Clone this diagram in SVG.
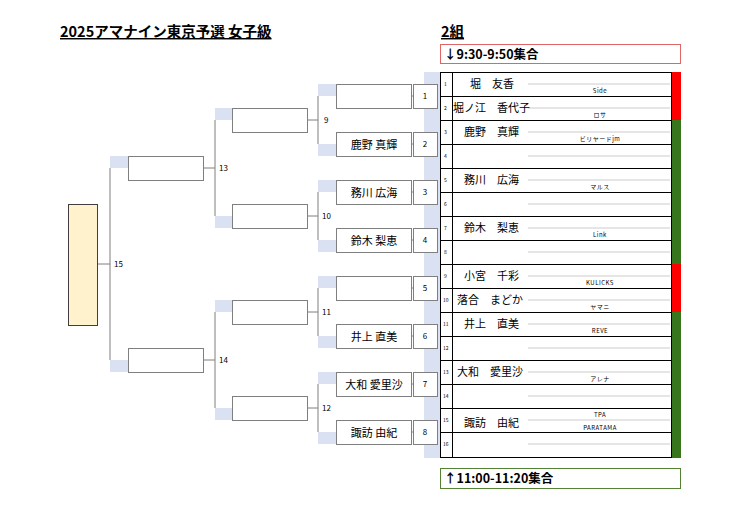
<svg xmlns="http://www.w3.org/2000/svg" width="740" height="523" viewBox="0 0 740 523">
<style>
text{font-family:"Noto Sans CJK JP","Liberation Sans",sans-serif;fill:#000}
.b{fill:#fff;stroke:#7f7f7f;stroke-width:1}
.bl{fill:#d9e1f2}
.ln{stroke:#7f7f7f;stroke-width:1;fill:none}
.nm{font-size:11px}
.rn{font-size:5px}
.cl{font-size:6px;font-family:"DejaVu Sans Mono",monospace;letter-spacing:0.5px}
.dl{stroke:#bfbfbf;stroke-width:0.8}
.rw{stroke:#000;stroke-width:1}
</style>
<rect width="740" height="523" fill="#fff"/>
<text x="60" y="37" font-size="14.5" font-weight="bold" text-decoration="underline">2025アマナイン東京予選 女子級</text>
<text x="441" y="37" font-size="14.5" font-weight="bold" text-decoration="underline">2組</text>
<g id="time1"><rect x="440.5" y="44.5" width="240" height="19" fill="#fff" stroke="#e06666"/><text x="444" y="59" font-size="12.5" font-weight="bold">↓9:30-9:50集合</text></g>
<g id="time2"><rect x="440.5" y="468.5" width="240" height="20" fill="#fff" stroke="#548235"/><text x="444" y="483" font-size="12.5" font-weight="bold">↑11:00-11:20集合</text></g>
<rect class="bl" x="424" y="72" width="16" height="386"/>
<g id="table">
<rect x="440.5" y="72.5" width="231" height="385" fill="#fff" stroke="#000"/>
<line class="rw" x1="452.5" y1="72" x2="452.5" y2="458"/>
<rect x="672" y="72" width="9" height="48" fill="#ff0000"/>
<rect x="672" y="120" width="9" height="144" fill="#38761d"/>
<rect x="672" y="264" width="9" height="48" fill="#ff0000"/>
<rect x="672" y="312" width="9" height="146" fill="#38761d"/>
<g class="rw">
<line x1="440" y1="96.5" x2="672" y2="96.5"/><line x1="440" y1="120.5" x2="672" y2="120.5"/><line x1="440" y1="144.5" x2="672" y2="144.5"/><line x1="440" y1="168.5" x2="672" y2="168.5"/><line x1="440" y1="192.5" x2="672" y2="192.5"/><line x1="440" y1="216.5" x2="672" y2="216.5"/><line x1="440" y1="240.5" x2="672" y2="240.5"/><line x1="440" y1="264.5" x2="672" y2="264.5"/><line x1="440" y1="288.5" x2="672" y2="288.5"/><line x1="440" y1="312.5" x2="672" y2="312.5"/><line x1="440" y1="336.5" x2="672" y2="336.5"/><line x1="440" y1="360.5" x2="672" y2="360.5"/><line x1="440" y1="384.5" x2="672" y2="384.5"/><line x1="440" y1="408.5" x2="672" y2="408.5"/><line x1="440" y1="432.5" x2="672" y2="432.5"/>
</g>
<g class="dl">
<line x1="528" y1="84" x2="670" y2="84"/><line x1="528" y1="108" x2="670" y2="108"/><line x1="528" y1="132" x2="670" y2="132"/><line x1="528" y1="156" x2="670" y2="156"/><line x1="528" y1="180" x2="670" y2="180"/><line x1="528" y1="204" x2="670" y2="204"/><line x1="528" y1="228" x2="670" y2="228"/><line x1="528" y1="252" x2="670" y2="252"/><line x1="528" y1="276" x2="670" y2="276"/><line x1="528" y1="300" x2="670" y2="300"/><line x1="528" y1="324" x2="670" y2="324"/><line x1="528" y1="348" x2="670" y2="348"/><line x1="528" y1="372" x2="670" y2="372"/><line x1="528" y1="396" x2="670" y2="396"/><line x1="528" y1="420" x2="670" y2="420"/><line x1="528" y1="444" x2="670" y2="444"/>
</g>
<g class="rn">
<text x="444" y="86">1</text><text x="444" y="110">2</text><text x="444" y="134">3</text><text x="444" y="158">4</text><text x="444" y="182">5</text><text x="444" y="206">6</text><text x="444" y="230">7</text><text x="444" y="254">8</text><text x="444" y="278">9</text><text x="443" y="302">10</text><text x="443" y="326">11</text><text x="443" y="350">12</text><text x="443" y="374">13</text><text x="443" y="398">14</text><text x="443" y="422">15</text><text x="443" y="446">16</text>
</g>
<g class="nm">
<text x="470" y="88">堀　友香</text><text x="453" y="112">堀ノ江　香代子</text><text x="464" y="136">鹿野　真輝</text><text x="464" y="184">務川　広海</text><text x="464" y="232">鈴木　梨恵</text><text x="464" y="280">小宮　千彩</text><text x="457" y="304">落合　まどか</text><text x="464" y="328">井上　直美</text><text x="457" y="376">大和　愛里沙</text><text x="464" y="427">諏訪　由紀</text>
</g>
<g class="cl" text-anchor="middle">
<text x="600" y="93">Side</text><text x="600" y="117">ロサ</text><text x="600" y="141">ビリヤードjm</text><text x="600" y="189">マルス</text><text x="600" y="237">Link</text><text x="600" y="285">KULICKS</text><text x="600" y="309">ヤマニ</text><text x="600" y="333">REVE</text><text x="600" y="381">アレナ</text><text x="600" y="417">TPA</text><text x="600" y="430">PARATAMA</text>
</g>
</g>
<g id="connectors">
<path class="ln" d="M411 96H413M411 144H413M411 192H413M411 240H413M411 288H413M411 336H413M411 384H413M411 432H413"/>
<path class="ln" d="M318 96V144M307 120H318M318 192V240M307 216H318M318 288V336M307 312H318M318 384V432M307 408H318"/>
<path class="ln" d="M215 120V216M203 168H215M215 312V408M203 360H215"/>
<path class="ln" d="M110 168V360M98 264H110"/>
</g>
<g font-size="8" font-family="DejaVu Sans,sans-serif">
<text x="324" y="123">9</text><text x="322" y="219">10</text><text x="322" y="315">11</text><text x="322" y="411">12</text>
<text x="219" y="171">13</text><text x="219" y="363">14</text><text x="114" y="267">15</text>
</g>
<g id="r1">
<rect class="bl" x="318" y="84" width="18" height="12"/><rect class="bl" x="318" y="144" width="18" height="12"/><rect class="bl" x="318" y="180" width="18" height="12"/><rect class="bl" x="318" y="240" width="18" height="12"/><rect class="bl" x="318" y="276" width="18" height="12"/><rect class="bl" x="318" y="336" width="18" height="12"/><rect class="bl" x="318" y="372" width="18" height="12"/><rect class="bl" x="318" y="432" width="18" height="12"/>
<rect class="b" x="336.5" y="84.5" width="75" height="24"/>
<rect class="b" x="336.5" y="132.5" width="75" height="24"/>
<rect class="b" x="336.5" y="180.5" width="75" height="24"/>
<rect class="b" x="336.5" y="228.5" width="75" height="24"/>
<rect class="b" x="336.5" y="276.5" width="75" height="24"/>
<rect class="b" x="336.5" y="324.5" width="75" height="24"/>
<rect class="b" x="336.5" y="372.5" width="75" height="24"/>
<rect class="b" x="336.5" y="420.5" width="75" height="24"/>
<g class="nm" text-anchor="middle"><text x="374" y="149">鹿野 真輝</text><text x="374" y="197">務川 広海</text><text x="374" y="245">鈴木 梨恵</text><text x="374" y="341">井上 直美</text><text x="374" y="389">大和 愛里沙</text><text x="374" y="437">諏訪 由紀</text></g>
</g>
<g id="matchnums" font-size="8" font-family="DejaVu Sans,sans-serif" text-anchor="middle">
<rect class="b" x="413.5" y="84.5" width="24" height="24"/><text x="425" y="99">1</text>
<rect class="b" x="413.5" y="132.5" width="24" height="24"/><text x="425" y="147">2</text>
<rect class="b" x="413.5" y="180.5" width="24" height="24"/><text x="425" y="195">3</text>
<rect class="b" x="413.5" y="228.5" width="24" height="24"/><text x="425" y="243">4</text>
<rect class="b" x="413.5" y="276.5" width="24" height="24"/><text x="425" y="291">5</text>
<rect class="b" x="413.5" y="324.5" width="24" height="24"/><text x="425" y="339">6</text>
<rect class="b" x="413.5" y="372.5" width="24" height="24"/><text x="425" y="387">7</text>
<rect class="b" x="413.5" y="420.5" width="24" height="24"/><text x="425" y="435">8</text>
</g>
<g id="r2">
<rect class="bl" x="215" y="108" width="17" height="12"/><rect class="bl" x="215" y="216" width="17" height="12"/><rect class="bl" x="215" y="300" width="17" height="12"/><rect class="bl" x="215" y="408" width="17" height="12"/>
<rect class="b" x="232.5" y="108.5" width="75" height="24"/><rect class="b" x="232.5" y="204.5" width="75" height="24"/><rect class="b" x="232.5" y="300.5" width="75" height="24"/><rect class="b" x="232.5" y="396.5" width="75" height="24"/>
</g>
<g id="r3">
<rect class="bl" x="110" y="156" width="18" height="12"/><rect class="bl" x="110" y="360" width="18" height="12"/>
<rect class="b" x="128.5" y="156.5" width="75" height="24"/><rect class="b" x="128.5" y="348.5" width="75" height="24"/>
</g>
<g id="final"><rect x="68.5" y="204.5" width="29" height="121" fill="#fff2cc" stroke="#3f3f3f"/></g>
</svg>
